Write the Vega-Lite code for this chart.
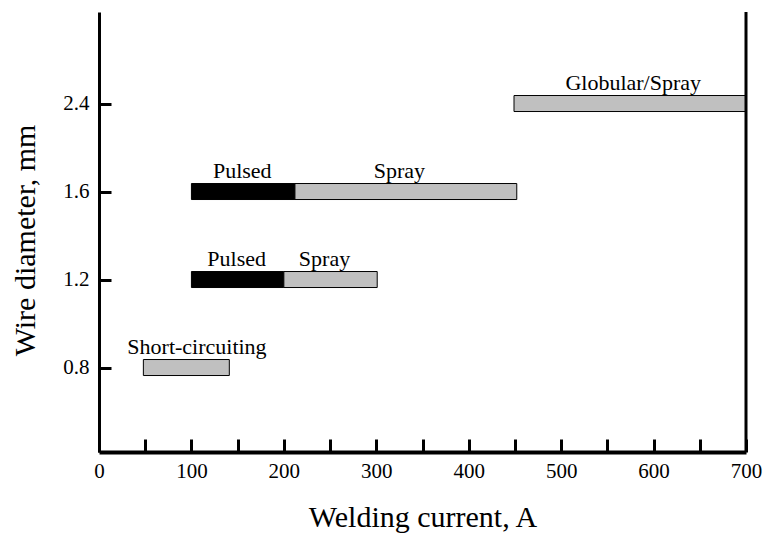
{
  "$schema": "https://vega.github.io/schema/vega-lite/v6.json",
  "width": 647,
  "height": 440,
  "autosize": "none",
  "padding": {"left": 99, "top": 12, "right": 18, "bottom": 82},
  "background": "white",
  "config": {"view": {"stroke": null}, "font": "Liberation Serif", "text": {"font": "Liberation Serif"}},
  "datasets": {
    "bars": [
      {"diameter": "0.8", "start": 48, "end": 141, "phase": "steady"},
      {"diameter": "1.2", "start": 100, "end": 200, "phase": "pulsed"},
      {"diameter": "1.2", "start": 200, "end": 301, "phase": "steady"},
      {"diameter": "1.6", "start": 100, "end": 212, "phase": "pulsed"},
      {"diameter": "1.6", "start": 212, "end": 452, "phase": "steady"},
      {"diameter": "2.4", "start": 449, "end": 700, "phase": "steady"}
    ],
    "labels": [
      {"diameter": "0.8", "pos": 106, "label": "Short-circuiting"},
      {"diameter": "1.2", "pos": 149, "label": "Pulsed"},
      {"diameter": "1.2", "pos": 244, "label": "Spray"},
      {"diameter": "1.6", "pos": 155, "label": "Pulsed"},
      {"diameter": "1.6", "pos": 325, "label": "Spray"},
      {"diameter": "2.4", "pos": 578, "label": "Globular/Spray"}
    ],
    "frame": [{"edge": 700}]
  },
  "layer": [
    {
      "data": {"name": "bars"},
      "mark": {"type": "bar", "height": 16, "stroke": "black", "strokeWidth": 1},
      "encoding": {
        "x": {
          "field": "start", "type": "quantitative",
          "scale": {"domain": [0, 700], "nice": false, "zero": false},
          "axis": {
            "values": [0, 50, 100, 150, 200, 250, 300, 350, 400, 450, 500, 550, 600, 650, 700],
            "labelExpr": "datum.value % 100 === 0 ? datum.label : ''",
            "title": "Welding current, A",
            "titleFont": "Liberation Serif", "titleFontSize": 30, "titleFontWeight": "normal", "titleColor": "black",
            "titlePadding": 21,
            "labelFont": "Liberation Serif", "labelFontSize": 21, "labelColor": "black", "labelPadding": 21,
            "labelFlush": false, "labelOverlap": false,
            "tickSize": -13, "tickWidth": 3, "tickColor": "black",
            "domainWidth": 4, "domainColor": "black", "grid": false
          }
        },
        "x2": {"field": "end"},
        "y": {
          "field": "diameter", "type": "ordinal",
          "scale": {"type": "point", "domain": ["2.4", "1.6", "1.2", "0.8"], "padding": 1.095, "align": 0.52},
          "axis": {
            "title": "Wire diameter, mm",
            "titleFont": "Liberation Serif", "titleFontSize": 30, "titleFontWeight": "normal", "titleColor": "black",
            "titlePadding": 22, "titleY": 228,
            "labelFont": "Liberation Serif", "labelFontSize": 21, "labelColor": "black", "labelPadding": 22,
            "tickSize": -12, "tickWidth": 3, "tickColor": "black",
            "domainWidth": 3, "domainColor": "black", "grid": false
          }
        },
        "color": {
          "field": "phase", "type": "nominal",
          "scale": {"domain": ["pulsed", "steady"], "range": ["black", "#c0c0c0"]},
          "legend": null
        }
      }
    },
    {
      "data": {"name": "labels"},
      "mark": {"type": "text", "dy": -14, "baseline": "alphabetic", "fontSize": 22, "font": "Liberation Serif", "color": "black"},
      "encoding": {
        "x": {"field": "pos", "type": "quantitative"},
        "y": {"field": "diameter", "type": "ordinal"},
        "text": {"field": "label"}
      }
    },
    {
      "data": {"name": "frame"},
      "mark": {"type": "rule", "strokeWidth": 3, "color": "black"},
      "encoding": {"x": {"field": "edge", "type": "quantitative"}}
    }
  ]
}
